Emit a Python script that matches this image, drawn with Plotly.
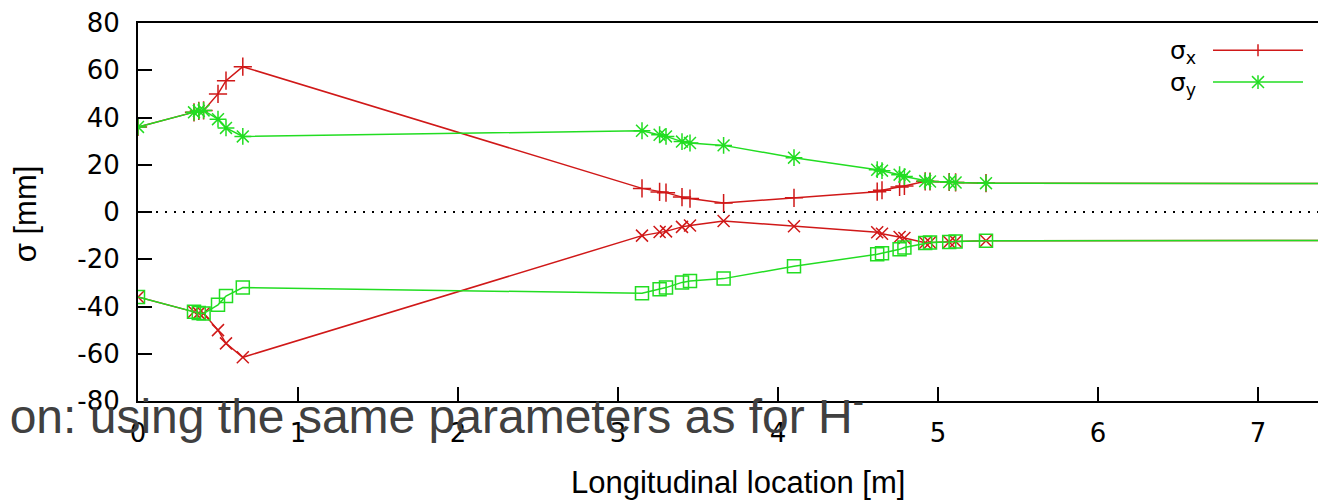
import plotly.graph_objects as go

# ---------------- data ----------------
location_m = [0.0, 0.35, 0.38, 0.41, 0.50, 0.55, 0.655, 3.15, 3.26, 3.30, 3.40, 3.45,
              3.66, 4.10, 4.62, 4.65, 4.76, 4.79, 4.92, 4.95, 5.07, 5.11, 5.30, 8.0]
sigma_x = [36.0, 42.2, 42.8, 43.0, 50.0, 55.6, 61.5, 10.0, 8.5, 8.2, 6.3, 5.7,
           3.8, 6.0, 8.6, 9.2, 10.6, 11.0, 13.0, 12.9, 12.7, 12.5, 12.2, 12.0]
sigma_y = [36.0, 42.2, 42.8, 43.0, 39.3, 35.6, 32.0, 34.4, 32.7, 32.0, 29.8, 29.2,
           28.2, 23.0, 17.9, 17.5, 15.8, 15.0, 13.1, 12.9, 12.7, 12.5, 12.2, 12.0]

x_tick_vals = [0, 1, 2, 3, 4, 5, 6, 7, 8]
x_tick_text = ["0", "1", "2", "3", "4", "5", "6", "7", "8"]
y_tick_vals = [-80, -60, -40, -20, 0, 20, 40, 60, 80]
y_tick_text = ["-80", "-60", "-40", "-20", "0", "20", "40", "60", "80"]

legend_names = ["σ<sub>x</sub>", "σ<sub>y</sub>"]
x_title = "Longitudinal location [m]"
y_title = "σ [mm]"
overlay_text = "ion: using the same parameters as for H<sup>-</sup>"

# ---------------- layout geometry ----------------
# the page body keeps an 8 px margin, so the figure is 8 px smaller each way
OFF = 8
W, H = 1326 - OFF, 501 - OFF
ML, MR, MT, MB = 138 - OFF, 0, 20.5 - OFF, 100
PW, PH = W - ML - MR, H - MT - MB


def px(page_x):
    return (page_x - OFF - ML) / PW


def py(page_y):
    return (H - MB - (page_y - OFF)) / PH


RED = "#d01818"
GREEN = "#22dd22"

fig = go.Figure()

neg_x = [-v for v in sigma_x]
neg_y = [-v for v in sigma_y]

fig.add_trace(go.Scatter(
    x=location_m, y=sigma_x, mode="lines+markers", name=legend_names[0],
    line=dict(color=RED, width=1.5),
    marker=dict(symbol="cross-thin", size=13, color=RED, line=dict(color=RED, width=1.5)),
    showlegend=False))
fig.add_trace(go.Scatter(
    x=location_m, y=sigma_y, mode="lines+markers", name=legend_names[1],
    line=dict(color=GREEN, width=1.5),
    marker=dict(symbol="asterisk-open", size=14, color=GREEN, line=dict(color=GREEN, width=1.5)),
    showlegend=False))
fig.add_trace(go.Scatter(
    x=location_m, y=neg_x, mode="lines+markers",
    line=dict(color=RED, width=1.5),
    marker=dict(symbol="x-thin-open", size=12, color=RED, line=dict(color=RED, width=1.5)),
    showlegend=False))
fig.add_trace(go.Scatter(
    x=location_m, y=neg_y, mode="lines+markers",
    line=dict(color=GREEN, width=1.5),
    marker=dict(symbol="square-open", size=13, color=GREEN, line=dict(color=GREEN, width=1.5)),
    showlegend=False))

tick_font = dict(family="DejaVu Sans", size=26, color="black")

fig.update_xaxes(
    range=[0, 7.425], tickmode="array", tickvals=x_tick_vals, ticktext=x_tick_text,
    ticks="inside", ticklen=14, tickwidth=1.5, tickcolor="black",
    showline=True, linecolor="black", linewidth=2, mirror=True,
    showgrid=False, zeroline=False, tickfont=tick_font, ticklabelstandoff=8,
    ticklabeloverflow="allow")
fig.update_yaxes(
    range=[-80, 80], tickmode="array", tickvals=y_tick_vals, ticktext=y_tick_text,
    ticks="inside", ticklen=14, tickwidth=1.5, tickcolor="black",
    showline=True, linecolor="black", linewidth=2, mirror=False,
    showgrid=False, zeroline=False, tickfont=tick_font, ticklabelstandoff=11,
    ticklabeloverflow="allow")

shapes = [
    # dotted zero axis
    dict(type="line", xref="paper", x0=0, x1=1, yref="y", y0=0, y1=0,
         line=dict(color="black", width=2, dash="2px,7px"), layer="below"),
    # legend samples
    dict(type="line", xref="paper", yref="paper", x0=px(1213), x1=px(1303), y0=py(48), y1=py(48),
         line=dict(color=RED, width=1.5)),
    dict(type="line", xref="paper", yref="paper", x0=px(1258), x1=px(1258), y0=py(42), y1=py(54),
         line=dict(color=RED, width=1.5)),
    dict(type="line", xref="paper", yref="paper", x0=px(1213), x1=px(1303), y0=py(80), y1=py(80),
         line=dict(color=GREEN, width=1.5)),
    dict(type="line", xref="paper", yref="paper", x0=px(1258), x1=px(1258), y0=py(73), y1=py(87),
         line=dict(color=GREEN, width=1.5)),
    dict(type="line", xref="paper", yref="paper", x0=px(1252), x1=px(1264), y0=py(74), y1=py(86),
         line=dict(color=GREEN, width=1.5)),
    dict(type="line", xref="paper", yref="paper", x0=px(1252), x1=px(1264), y0=py(86), y1=py(74),
         line=dict(color=GREEN, width=1.5)),
]

annotations = [
    dict(text=legend_names[0], xref="paper", yref="paper", x=px(1198), y=py(50),
         xanchor="right", yanchor="middle", showarrow=False,
         font=dict(family="DejaVu Sans", size=25, color="black")),
    dict(text=legend_names[1], xref="paper", yref="paper", x=px(1198), y=py(82),
         xanchor="right", yanchor="middle", showarrow=False,
         font=dict(family="DejaVu Sans", size=25, color="black")),
    dict(text=x_title, xref="paper", yref="paper", x=px(738), y=py(483),
         xanchor="center", yanchor="middle", showarrow=False,
         font=dict(family="Liberation Sans", size=31, color="black")),
    dict(text=y_title, xref="paper", yref="paper", x=px(25), y=py(213), textangle=-90,
         xanchor="center", yanchor="middle", showarrow=False,
         font=dict(family="Liberation Sans", size=31, color="black")),
    dict(text=overlay_text, xref="paper", yref="paper", x=px(-3), y=py(413),
         xanchor="left", yanchor="middle", showarrow=False,
         font=dict(family="Liberation Sans", size=48, color="#404040")),
]

fig.update_layout(
    width=W, height=H,
    margin=dict(l=ML, r=MR, t=MT, b=MB, pad=0),
    plot_bgcolor="white", paper_bgcolor="white",
    showlegend=False, shapes=shapes, annotations=annotations)

fig.write_html("out.html")
